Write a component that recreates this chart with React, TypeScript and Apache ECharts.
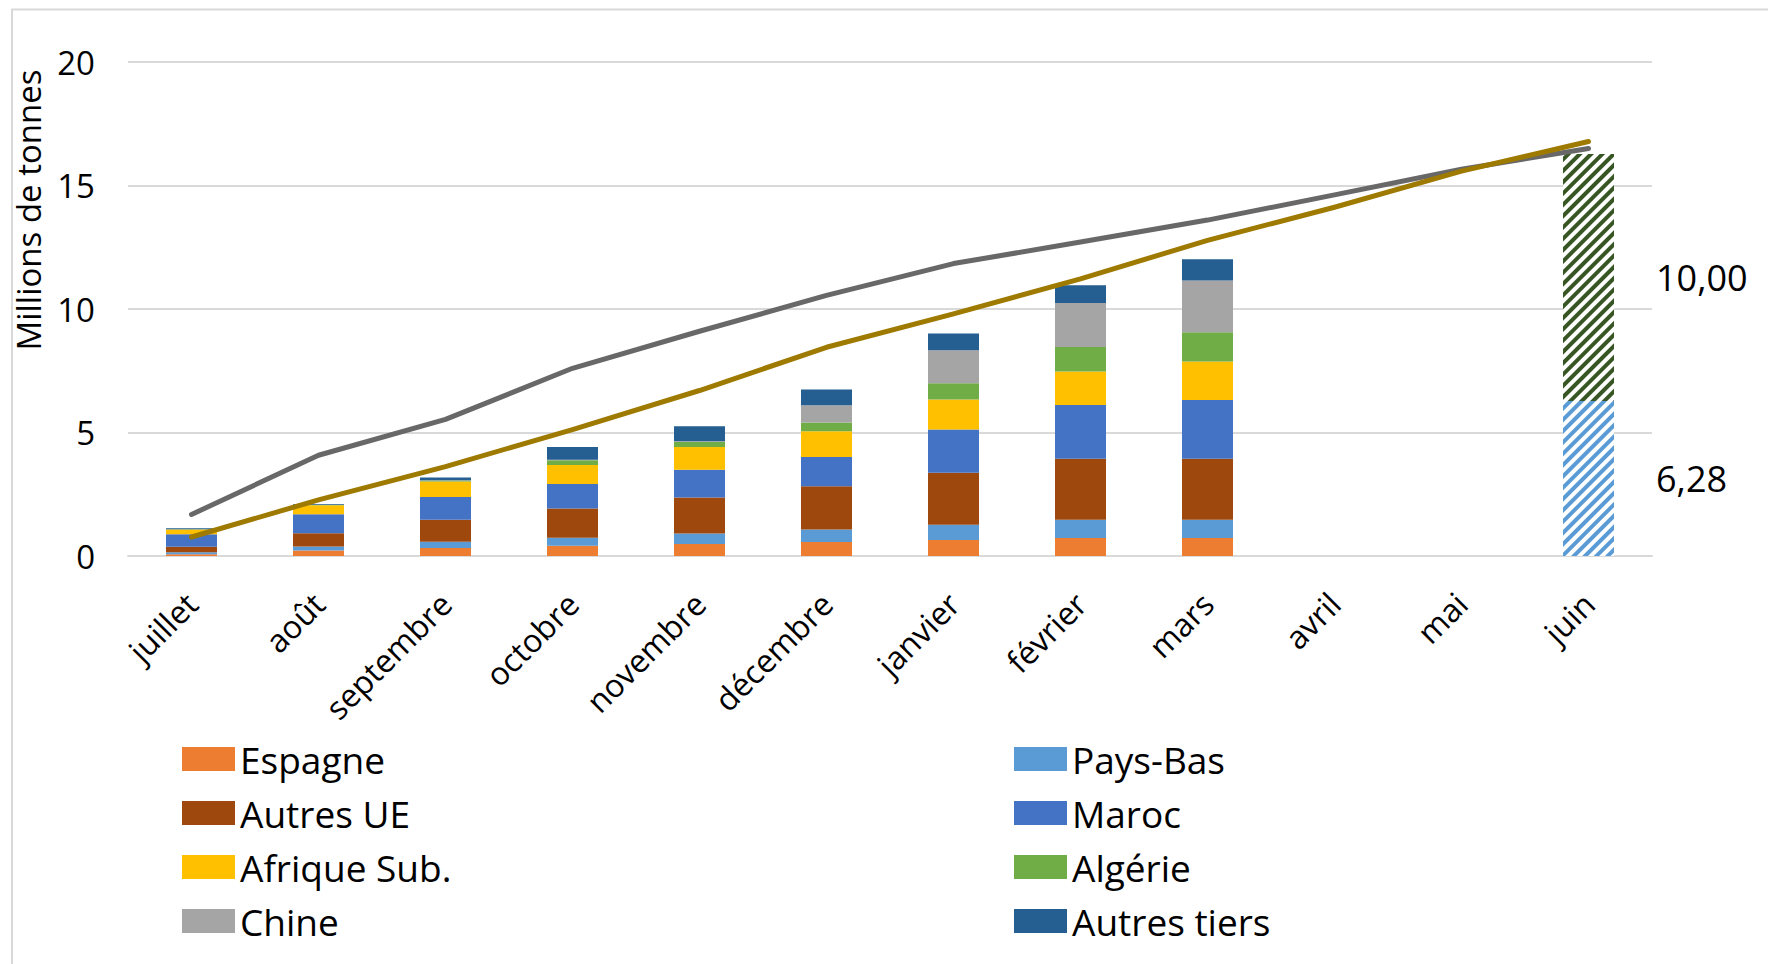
import React, { useEffect, useRef } from "react";
import * as echarts from "echarts";

const months = ["juillet", "août", "septembre", "octobre", "novembre", "décembre", "janvier", "février", "mars", "avril", "mai", "juin"];

const espagne = [0.07, 0.22, 0.32, 0.42, 0.49, 0.57, 0.65, 0.73, 0.73, null, null, null];
const paysBas = [0.08, 0.16, 0.26, 0.32, 0.42, 0.5, 0.62, 0.74, 0.74, null, null, null];
const autresUE = [0.22, 0.54, 0.89, 1.18, 1.46, 1.75, 2.1, 2.47, 2.47, null, null, null];
const maroc = [0.51, 0.77, 0.92, 0.99, 1.12, 1.19, 1.75, 2.17, 2.38, null, null, null];
const afriqueSub = [0.19, 0.36, 0.63, 0.77, 0.92, 1.04, 1.22, 1.36, 1.55, null, null, null];
const algerie = [0.01, 0.02, 0.04, 0.2, 0.22, 0.35, 0.65, 0.99, 1.19, null, null, null];
const chine = [0.0, 0.0, 0.01, 0.02, 0.02, 0.7, 1.34, 1.78, 2.09, null, null, null];
const autresTiers = [0.04, 0.04, 0.11, 0.51, 0.6, 0.64, 0.68, 0.72, 0.86, null, null, null];

const previsionUE = [null, null, null, null, null, null, null, null, null, null, null, 6.28];
const previsionTiers = [null, null, null, null, null, null, null, null, null, null, null, 10.0];

const courbeGrise = [1.68, 4.08, 5.53, 7.6, 9.1, 10.55, 11.84, 12.71, 13.6, 14.62, 15.66, 16.5];
const courbeOr = [0.77, 2.27, 3.62, 5.12, 6.7, 8.45, 9.8, 11.22, 12.78, 14.12, 15.58, 16.78];

const FONT = "Open Sans";

export default function App() {
  const ref = useRef<HTMLDivElement>(null);

  useEffect(() => {
    document.body.style.margin = "0";
    if (!ref.current) return;
    const chart = echarts.init(ref.current, null, { renderer: "svg" });

    const barSeries = (name: string, data: (number | null)[], color: string) => ({
      name,
      type: "bar",
      stack: "total",
      data,
      barWidth: 51,
      itemStyle: { color },
      emphasis: { disabled: true },
    });

    const hatched = (name: string, data: (number | null)[], color: string) => ({
      name,
      type: "bar",
      stack: "total",
      data,
      barWidth: 51,
      itemStyle: {
        color: "#ffffff",
        decal: {
          symbol: "rect",
          symbolSize: 1,
          color,
          dashArrayX: [1, 0],
          dashArrayY: [3.2, 3.2],
          rotation: -Math.PI / 4,
        },
      },
      label: {
        show: true,
        position: "right",
        distance: 42,
        fontSize: 36,
        fontFamily: FONT,
        color: "#000",
        formatter: (p: any) => (p.value == null ? "" : Number(p.value).toFixed(2).replace(".", ",")),
      },
      emphasis: { disabled: true },
    });

    const legendCommon = {
      orient: "vertical",
      top: 734,
      itemWidth: 53,
      itemHeight: 24,
      itemGap: 14,
      icon: "rect",
      selectedMode: false,
      textStyle: { fontSize: 37, fontFamily: FONT, color: "#000", lineHeight: 40 },
    };

    const option: any = {
      animation: false,
      textStyle: { fontFamily: FONT },
      grid: { left: 128, right: 116, top: 62, bottom: 408 },
      xAxis: {
        type: "category",
        data: months,
        axisLine: { lineStyle: { color: "#D9D9D9", width: 2 } },
        axisTick: { show: false },
        axisLabel: { rotate: 45, fontSize: 32, color: "#000", margin: 42, interval: 0, fontFamily: FONT },
      },
      yAxis: {
        type: "value",
        min: 0,
        max: 20,
        interval: 5,
        axisLabel: { fontSize: 33, color: "#000", margin: 33, fontFamily: FONT },
        axisLine: { show: false },
        axisTick: { show: false },
        splitLine: { lineStyle: { color: "#D9D9D9", width: 2 } },
      },
      legend: [
        { ...legendCommon, left: 177, data: ["Espagne", "Autres UE", "Afrique Sub.", "Chine"] },
        { ...legendCommon, left: 1009, data: ["Pays-Bas", "Maroc", "Algérie", "Autres tiers"] },
      ],
      graphic: [
        {
          type: "rect",
          silent: true,
          shape: { x: 12, y: 9.5, width: 1800, height: 1000 },
          style: { fill: "none", stroke: "#D9D9D9", lineWidth: 2 },
        },
        {
          type: "text",
          x: 28,
          y: 210,
          rotation: Math.PI / 2,
          style: {
            text: "Millions de tonnes",
            fontSize: 33,
            fontFamily: FONT,
            fill: "#000",
            align: "center",
            verticalAlign: "middle",
          },
        },
      ],
      series: [
        barSeries("Espagne", espagne, "#ED7D31"),
        barSeries("Pays-Bas", paysBas, "#5B9BD5"),
        barSeries("Autres UE", autresUE, "#9E480E"),
        barSeries("Maroc", maroc, "#4472C4"),
        barSeries("Afrique Sub.", afriqueSub, "#FFC000"),
        barSeries("Algérie", algerie, "#70AD47"),
        barSeries("Chine", chine, "#A5A5A5"),
        barSeries("Autres tiers", autresTiers, "#255E91"),
        hatched("Prévision UE", previsionUE, "#5B9BD5"),
        hatched("Prévision pays tiers", previsionTiers, "#375623"),
        {
          name: "Campagne précédente",
          type: "line",
          data: courbeGrise,
          symbol: "none",
          lineStyle: { color: "#686868", width: 5, cap: "round", join: "round" },
          emphasis: { disabled: true },
          z: 5,
        },
        {
          name: "Moyenne",
          type: "line",
          data: courbeOr,
          symbol: "none",
          lineStyle: { color: "#9E7A00", width: 5, cap: "round", join: "round" },
          emphasis: { disabled: true },
          z: 6,
        },
      ],
    };

    chart.setOption(option);
    return () => chart.dispose();
  }, []);

  return <div ref={ref} style={{ width: 1768, height: 964 }} />;
}
